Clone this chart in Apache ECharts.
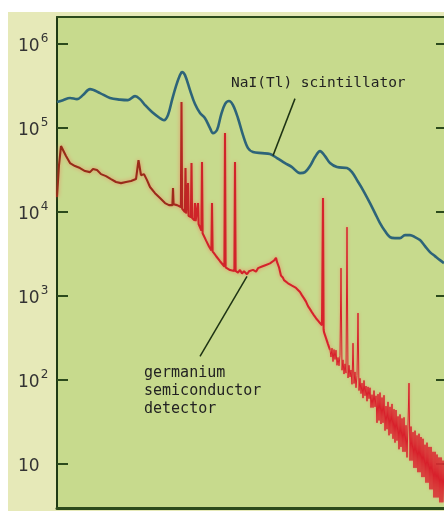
<!DOCTYPE html>
<html>
<head>
<meta charset="utf-8">
<script src="https://cdn.jsdelivr.net/npm/echarts@6/dist/echarts.min.js"></script>
<style>
  html, body { margin: 0; padding: 0; background: #fff; }
  #chart { width: 444px; height: 511px; }
</style>
</head>
<body>
<div id="chart"></div>
<script>
// channel numbers (x) and counts per channel (y)
const naiChannels = [0, 6, 13, 20, 26, 33, 43, 53, 63, 71, 78, 83, 88, 95, 103, 107, 111, 115, 119, 123,
  125, 128, 133, 138, 143, 148, 153, 156, 160, 164, 168, 172, 176, 181, 186, 191, 196, 205, 213, 220,
  228, 235, 243, 248, 253, 258, 263, 268, 273, 280, 290, 295, 300, 306, 313, 318, 323, 328, 333, 338,
  343, 348, 353, 358, 363, 368, 373, 378, 383, 387];
const naiCounts = [2.04e5, 2.15e5, 2.28e5, 2.21e5, 2.47e5, 2.91e5, 2.61e5, 2.28e5, 2.18e5, 2.15e5, 2.40e5, 2.21e5, 1.88e5, 1.55e5, 1.31e5, 1.24e5, 1.43e5, 2.15e5, 3.16e5, 4.27e5,
  4.64e5, 4.27e5, 2.83e5, 1.93e5, 1.51e5, 1.31e5, 1.0e5, 8.71e4, 9.46e4, 1.43e5, 1.93e5, 2.10e5, 1.88e5, 1.31e5, 8.26e4, 5.78e4, 5.18e4, 5.03e4, 4.90e4, 4.40e4,
  3.83e4, 3.43e4, 2.91e4, 2.99e4, 3.53e4, 4.52e4, 5.32e4, 4.64e4, 3.83e4, 3.43e4, 3.34e4, 2.99e4, 2.40e4, 1.83e4, 1.28e4, 9.73e3, 7.40e3, 5.94e3, 5.03e3, 4.90e3,
  4.90e3, 5.32e3, 5.32e3, 5.03e3, 4.64e3, 3.94e3, 3.34e3, 2.99e3, 2.68e3, 2.47e3];

// germanium: continuum with the narrow photopeaks written in place
const geChannels = [0, 2, 4, 6, 9, 13, 18, 23, 28, 33, 36, 40, 44, 49, 54, 59, 64, 69, 74, 79,
  81, 81.5, 83, 84, 87, 90, 93, 98, 103, 108, 112, 115.4, 116, 116.6, 120, 123.9, 124.5, 125.1, 126, 127.9,
  128.5, 129.1, 130.4, 131, 131.6, 133.9, 134.5, 135.1, 137.4, 138, 138.6, 140.4, 141, 141.6, 144.4, 145, 145.6, 149, 152, 154.4,
  155, 155.6, 159, 163, 167.4, 168, 168.6, 173, 177.4, 178, 178.6, 181, 183, 185, 187, 190, 192, 194, 196, 199,
  201, 203, 205, 207, 209, 211, 213, 215, 217, 219, 220, 222, 224, 226, 227, 229, 231, 233, 235, 237,
  239, 241, 243, 245, 247, 249, 251, 253, 255, 257, 259, 261, 263, 265, 265.4, 266, 266.6, 267, 269, 271, 273];
const geCounts = [1.51e4, 3.63e4, 6.11e4, 5.47e4, 4.64e4, 3.83e4, 3.53e4, 3.34e4, 3.08e4, 2.99e4, 3.25e4, 3.16e4, 2.83e4, 2.68e4, 2.47e4, 2.28e4, 2.21e4, 2.28e4, 2.34e4, 2.47e4,
  2.54e4, 4.16e4, 4.0e4, 2.75e4, 2.83e4, 2.40e4, 1.99e4, 1.68e4, 1.47e4, 1.28e4, 1.21e4, 1.21e4, 1.93e4, 1.24e4, 1.21e4, 1.15e4, 2.04e5, 1.1e4, 1.06e4, 1.0e4,
  3.34e4, 9.6e3, 9.3e3, 2.21e4, 9.0e3, 8.7e3, 3.83e4, 8.5e3, 8.0e3, 1.28e4, 7.8e3, 7.4e3, 1.28e4, 7.2e3, 6.0e3, 3.94e4, 5.6e3, 4.6e3, 3.9e3, 3.5e3,
  1.28e4, 3.4e3, 3.0e3, 2.6e3, 2.25e3, 8.71e4, 2.2e3, 2.04e3, 1.99e3, 3.94e4, 1.99e3, 1.90e3, 2.05e3, 1.85e3, 1.98e3, 1.82e3, 1.97e3, 1.88e3, 2.05e3, 1.95e3,
  2.15e3, 2.05e3, 2.25e3, 2.15e3, 2.35e3, 2.25e3, 2.45e3, 2.4e3, 2.65e3, 2.85e3, 2.55e3, 2.2e3, 1.75e3, 1.65e3, 1.55e3, 1.5e3, 1.42e3, 1.40e3, 1.33e3, 1.30e3,
  1.25e3, 1.20e3, 1.12e3, 1.02e3, 940, 860, 760, 700, 640, 590, 545, 510, 477, 450, 445, 1.47e4, 400, 373, 316, 268, 228];

// high-energy tail, one value per channel, where the counts scatter widely
const geTailChannels = [273, 274, 275, 276, 277, 278, 279, 280, 281, 282, 283, 284, 285, 286, 287, 288, 289, 290, 291, 292,
  293, 294, 295, 296, 297, 298, 299, 300, 301, 302, 303, 304, 305, 306, 307, 308, 309, 310, 311, 312,
  313, 314, 315, 316, 317, 318, 319, 320, 321, 322, 323, 324, 325, 326, 327, 328, 329, 330, 331, 332,
  333, 334, 335, 336, 337, 338, 339, 340, 341, 342, 343, 344, 345, 346, 347, 348, 349, 350, 351, 352,
  353, 354, 355, 356, 357, 358, 359, 360, 361, 362, 363, 364, 365, 366, 367, 368, 369, 370, 371, 372,
  373, 374, 375, 376, 377, 378, 379, 380, 381, 382, 383, 384, 385, 386, 387];
const geTailCounts = [228, 188, 240, 166, 231, 176, 227, 150, 186, 148, 196, 2150, 131, 174, 118, 156, 121, 6620, 106, 150,
  109, 132, 89, 275, 91, 125, 81, 113, 628, 75, 105, 69, 92, 61, 99, 65, 85, 56, 83, 60,
  81, 47, 67, 47, 75, 48, 65, 31, 68, 33, 71, 30, 62, 31, 66, 25, 49, 26, 55, 22,
  48, 23, 52, 20, 45, 18, 44, 19, 37, 15, 39, 16, 35, 14, 36, 14, 29, 12, 30, 92,
  11, 28, 11, 24, 9, 25, 9, 22, 8, 23, 8, 21, 7, 20, 7, 17, 6, 18, 6, 16,
  5, 16, 5, 14, 4, 14, 4, 13, 4, 12, 3.5, 12, 3.5, 11, 3.5];

const countMin = 3;
const countMax = 2.1e6;
const channelMax = 387;

// points on the curves where the two label leaders end
const naiLabelAnchor = [216, 4.7e4];
const geLabelAnchor = [190, 1.72e3];

const pairs = (xs, ys) => xs.map((x, i) => [x, ys[i]]);

const chart = echarts.init(document.getElementById('chart'));

const tickFormatter = (v) => {
  const lg = Math.log10(v);
  const e = Math.round(lg);
  if (Math.abs(lg - e) > 1e-6) return '';
  if (e === 1) return '{b|10}';
  return '{b|10}{s|' + e + '}';
};

const noAxisBits = { axisTick: { show: false }, axisLabel: { show: false }, splitLine: { show: false } };

const option = {
  backgroundColor: '#e6e9b8',
  animation: false,
  grid: {
    left: 57, right: 0, top: 17, bottom: 3,
    show: true,
    backgroundColor: '#c7da8d',
    borderWidth: 0
  },
  xAxis: [{
    type: 'value', min: 0, max: channelMax, position: 'bottom',
    axisLine: { show: true, onZero: false, lineStyle: { color: '#2c4a1c', width: 3 } },
    ...noAxisBits
  }, {
    type: 'value', min: 0, max: channelMax, position: 'top',
    axisLine: { show: true, onZero: false, lineStyle: { color: '#2c4a1c', width: 2 } },
    ...noAxisBits
  }],
  yAxis: [{
    type: 'log', min: countMin, max: countMax, position: 'left',
    axisLine: { show: true, onZero: false, lineStyle: { color: '#1f3a14', width: 2 } },
    axisTick: { show: true, inside: true, length: 11, lineStyle: { color: '#2c4a1c', width: 2 } },
    splitLine: { show: false },
    axisLabel: {
      margin: 39, align: 'left', formatter: tickFormatter,
      rich: {
        b: { fontFamily: 'DejaVu Sans', fontSize: 17, color: '#333', lineHeight: 23, verticalAlign: 'bottom' },
        s: { fontFamily: 'DejaVu Sans', fontSize: 12, color: '#333', lineHeight: 23, verticalAlign: 'top', padding: [0, 0, 0, 1] }
      }
    }
  }, {
    type: 'log', min: countMin, max: countMax, position: 'right',
    axisLine: { show: false, onZero: false },
    axisTick: { show: true, inside: true, length: 8, lineStyle: { color: '#2c4a1c', width: 2 } },
    axisLabel: { show: false }, splitLine: { show: false }
  }],
  series: [{
    name: 'NaI(Tl) scintillator', type: 'line', yAxisIndex: 0,
    data: pairs(naiChannels, naiCounts),
    showSymbol: false, smooth: 0.35,
    lineStyle: { color: '#2d6479', width: 2.6 },
    z: 3
  }, {
    name: 'germanium semiconductor detector', type: 'line', yAxisIndex: 0,
    data: pairs(geChannels, geCounts),
    showSymbol: false,
    lineStyle: {
      width: 2.1,
      color: new echarts.graphic.LinearGradient(0, 0, 1, 0, [
        { offset: 0, color: '#962c18' },
        { offset: 0.42, color: '#9c2a1a' },
        { offset: 0.5, color: '#cf2429' },
        { offset: 1, color: '#d8222c' }
      ]),
      shadowColor: 'rgba(240,120,90,0.8)', shadowBlur: 4
    },
    z: 4
  }, {
    name: 'germanium semiconductor detector', type: 'line', yAxisIndex: 0,
    data: pairs(geTailChannels, geTailCounts),
    showSymbol: false,
    lineStyle: { width: 1, color: '#d8202c', shadowColor: 'rgba(240,130,100,0.7)', shadowBlur: 3 },
    z: 4
  }],
  graphic: [
    { id: 'padTop', type: 'rect', shape: { x: 0, y: 0, width: 444, height: 12 }, style: { fill: '#fff' }, silent: true },
    { id: 'padLeft', type: 'rect', shape: { x: 0, y: 0, width: 8, height: 511 }, style: { fill: '#fff' }, silent: true },
    {
      id: 'naiText', type: 'text', left: 231, top: 76, z: 100,
      style: { text: 'NaI(Tl) scintillator', fill: '#222', font: '14.5px "DejaVu Sans Mono"' }
    },
    {
      id: 'geText', type: 'text', left: 144, top: 364, z: 100,
      style: { text: 'germanium\nsemiconductor\ndetector', fill: '#222', font: '15px "DejaVu Sans Mono"', lineHeight: 18 }
    }
  ]
};

chart.setOption(option);

// leaders from the labels to the curves, anchored on data values
const naiEnd = chart.convertToPixel({ gridIndex: 0 }, naiLabelAnchor);
const geEnd = chart.convertToPixel({ gridIndex: 0 }, geLabelAnchor);
chart.setOption({
  graphic: [
    {
      id: 'naiLeader', type: 'line', z: 100,
      shape: { x1: naiEnd[0] + 22, y1: naiEnd[1] - 57, x2: naiEnd[0], y2: naiEnd[1] },
      style: { stroke: '#1e3314', lineWidth: 1.5 }
    },
    {
      id: 'geLeader', type: 'line', z: 100,
      shape: { x1: geEnd[0], y1: geEnd[1], x2: geEnd[0] - 47, y2: geEnd[1] + 80 },
      style: { stroke: '#1e3314', lineWidth: 1.5 }
    }
  ]
});
</script>
</body>
</html>
